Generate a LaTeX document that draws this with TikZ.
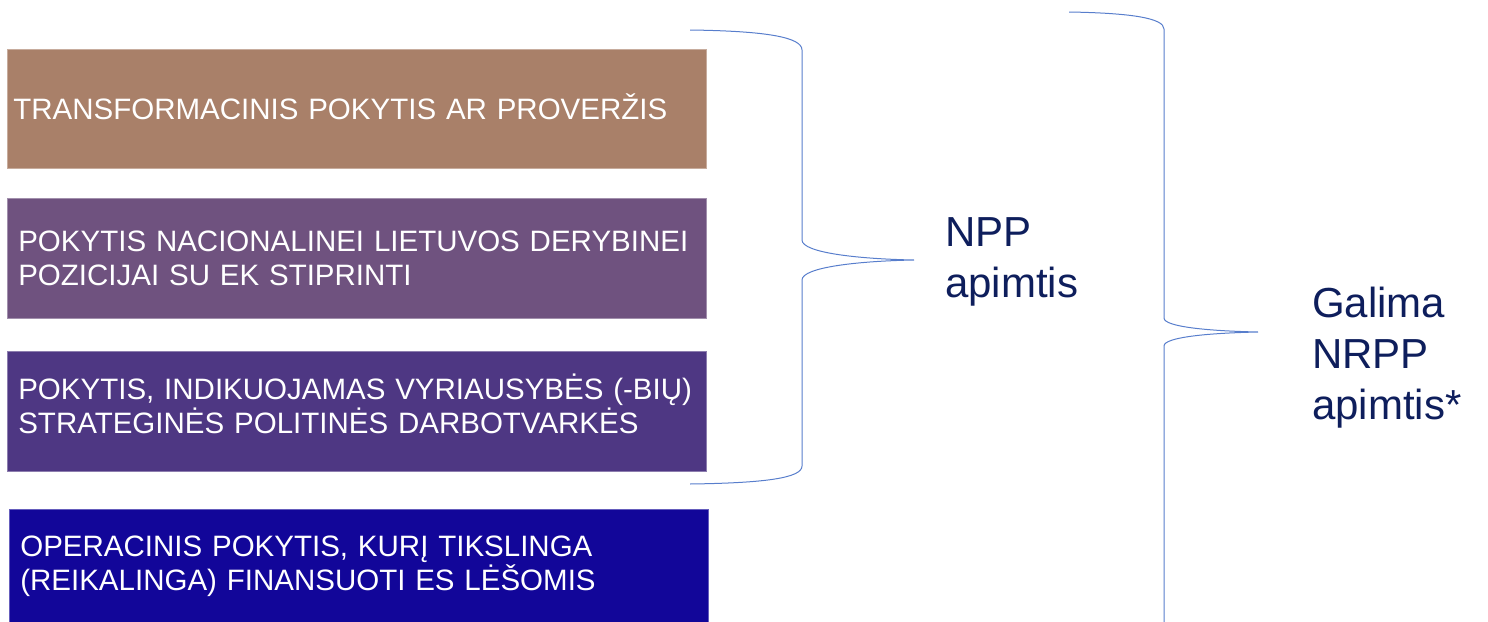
\documentclass[tikz,border=0pt]{standalone}
\usepackage{fontspec}
\setmainfont{Liberation Sans}
\usepackage{xcolor}
\usepackage{tikz}
\usetikzlibrary{positioning}

\definecolor{brownbox}{RGB}{169,128,105}
\definecolor{mauvebox}{RGB}{111,82,127}
\definecolor{violetbox}{RGB}{78,55,131}
\definecolor{bluebox}{RGB}{18,6,153}
\definecolor{navytext}{RGB}{14,30,92}
\definecolor{braceblue}{RGB}{88,126,204}

\tikzset{
    levelbox/.style={rectangle, draw=#1!65!white, fill=#1, line width=0.6pt,
        text=white, align=left, text width=677pt, inner xsep=11pt, inner ysep=0pt,
        font=\fontsize{29.5}{34}\selectfont},
    scopetext/.style={anchor=base west, align=left, text=navytext, inner sep=0pt,
        font=\fontsize{42}{51}\selectfont},
    curlybrace/.style={draw=braceblue, line width=1pt}
}

\begin{document}
\begin{tikzpicture}[x=1pt, y=-1pt]
    \useasboundingbox (0,0) rectangle (1488,621);

    % the four kinds of change
    \node[levelbox=brownbox, anchor=north west, minimum height=119pt, inner xsep=6pt, text width=687pt] (trans) at (7,49) {TRANSFORMACINIS POKYTIS AR PROVERŽIS\rule[-5pt]{0pt}{0pt}};
    \node[levelbox=mauvebox, minimum height=120pt, below=29pt of trans] (derybos) {POKYTIS NACIONALINEI LIETUVOS DERYBINEI\\POZICIJAI SU EK STIPRINTI};
    \node[levelbox=violetbox, minimum height=120pt, below=33pt of derybos] (darbotvarke) {POKYTIS, INDIKUOJAMAS VYRIAUSYBĖS (-BIŲ)\\STRATEGINĖS POLITINĖS DARBOTVARKĖS\rule[-16pt]{0pt}{0pt}};
    \node[levelbox=bluebox, minimum height=115pt, below=37pt of darbotvarke, xshift=2pt] (operacinis) {OPERACINIS POKYTIS, KURĮ TIKSLINGA\\(REIKALINGA) FINANSUOTI ES LĖŠOMIS};

    % braces
    \coordinate (nppTop) at (690,30);
    \coordinate (nppTip) at (914,260);
    \coordinate (nppEnd) at (690,484);
    \draw[curlybrace] (nppTop) .. controls (765,31) and (802,37) .. (802,50) -- (802,240)
        .. controls (802,253) and (860,259) .. (nppTip)
        .. controls (860,261) and (802,267) .. (802,280) -- (802,466)
        .. controls (802,478) and (765,483) .. (nppEnd);

    \coordinate (nrppTop) at (1069,12);
    \coordinate (nrppTip) at (1258,332);
    \coordinate (nrppEnd) at (1164,625);
    \draw[curlybrace] (nrppTop) .. controls (1130,13) and (1164,18) .. (1164,29) -- (1164,318)
        .. controls (1164,327) and (1210,331) .. (nrppTip)
        .. controls (1210,333) and (1164,337) .. (1164,346) -- (nrppEnd);

    % last baseline of each label
    \node[scopetext] (npp) at (945,297) {NPP\\apimtis};
    \node[scopetext] (nrpp) at (1312,419) {Galima\\NRPP\\apimtis*};

\end{tikzpicture}
\end{document}
